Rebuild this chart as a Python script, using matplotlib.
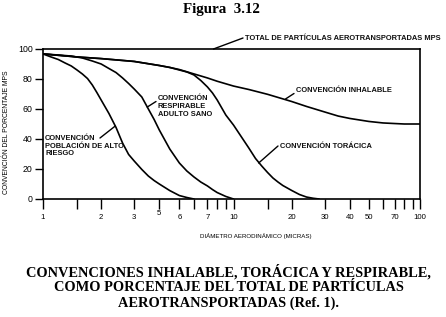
import numpy as np
import matplotlib
matplotlib.use("Agg")
import matplotlib.pyplot as plt
from matplotlib.transforms import ScaledTranslation

# ---------------- data ----------------
major_vals = [1, 2, 3, 5, 6, 7, 10, 20, 30, 40, 50, 70, 100]
major_labels = ["1", "2", "3", "5", "6", "7", "10", "20", "30", "40", "50", "70", "100"]
minor_vals = [1.5, 6.5, 8, 9, 15, 60, 80, 90]

# high-risk population respirable convention
d_risk = [1, 1.1, 1.2, 1.3, 1.4, 1.5, 1.6, 1.7, 1.8, 1.9, 2, 2.2, 2.4, 2.6, 2.8, 3,
          3.5, 4, 4.5, 5, 5.5, 6, 6.25, 6.5]
y_risk = [96.7, 94.7, 93, 90.7, 88.7, 86, 83.3, 80.3, 76, 71, 66, 57, 47.7, 37.3, 29.7, 25.3,
          19.7, 15.3, 12.3, 10, 5.6, 2.3, 1, 0]

# respirable convention, healthy adult
d_resp = [1, 1.2, 1.4, 1.6, 1.8, 2, 2.2, 2.4, 2.6, 2.8, 3, 3.5, 4, 4.5, 5, 5.5, 6,
          6.25, 6.5, 6.75, 7, 7.5, 8, 9, 10]
y_resp = [96.7, 96, 95.3, 94, 92, 90, 87, 84.3, 80.7, 77, 73.3, 68, 60, 53, 46, 33.3, 24,
          18.7, 14.7, 11.3, 8.7, 6.3, 4.3, 1.7, 0]

# thoracic convention
d_tor = [1, 1.5, 2, 3, 5, 5.5, 6, 6.25, 6.5, 6.75, 7, 7.5, 8, 9, 10, 11, 12, 13, 14, 15,
         16, 17, 18, 20, 22, 24, 26, 28]
y_tor = [96.7, 94.7, 93.6, 91.7, 89, 87.7, 86, 84.7, 82.7, 79, 74.7, 70.7, 66, 56, 49.3,
         41.3, 34, 27, 22, 17.7, 14, 11.3, 9, 5.7, 3, 1.3, 0.5, 0]

# inhalable convention
d_inh = [1, 1.5, 2, 3, 5, 5.5, 6, 7, 8, 10, 12, 15, 20, 24, 30, 35, 40, 50, 60, 70, 80, 100]
y_inh = [96.7, 94.7, 93.6, 91.7, 89, 87.7, 86.3, 80.7, 78.5, 75.3, 73, 69.8, 65, 61.7,
         58, 55.3, 53.7, 51.7, 50.7, 50.3, 50, 50]

y_ticks = [0, 20, 40, 60, 80, 100]

# ------------- axis layout (hand-drawn spacing of the original) -------------
tick_pos = np.array([0, 58, 91, 116, 136, 164, 190, 248, 281, 306, 325, 351, 376], float)
log_vals = np.log10(np.array(major_vals, float))

def fwd(x):
    x = np.clip(np.asarray(x, float), 1e-6, None)
    lx = np.log10(x)
    p = np.interp(lx, log_vals, tick_pos)
    p = np.where(lx < log_vals[0], tick_pos[0] + (lx - log_vals[0]) * 190, p)
    p = np.where(lx > log_vals[-1], tick_pos[-1] + (lx - log_vals[-1]) * 190, p)
    return p

def inv(p):
    p = np.asarray(p, float)
    lx = np.interp(p, tick_pos, log_vals)
    lx = np.where(p < tick_pos[0], log_vals[0] + (p - tick_pos[0]) / 190, lx)
    lx = np.where(p > tick_pos[-1], log_vals[-1] + (p - tick_pos[-1]) / 190, lx)
    return 10 ** lx

W, H = 446, 317
fig = plt.figure(figsize=(W / 100, H / 100), dpi=100)
ax = fig.add_axes([43 / W, 1 - 199 / H, 377 / W, 150 / H])
ax.set_xscale("function", functions=(fwd, inv))
ax.set_xlim(1, 100)
ax.set_ylim(0, 100)

lw = 1.2
for d, y in [(d_risk, y_risk), (d_resp, y_resp), (d_tor, y_tor), (d_inh, y_inh)]:
    ax.plot(d, y, color="black", lw=lw, solid_joinstyle="round", solid_capstyle="round")

for s in ax.spines.values():
    s.set_linewidth(1.2)

sans = "Liberation Sans"
ax.set_xticks(major_vals)
ax.set_xticklabels(major_labels, fontsize=5.6, family=sans)
ax.set_xticks(minor_vals, minor=True)
ax.xaxis.set_minor_formatter(plt.NullFormatter())
ax.tick_params(axis="x", which="both", direction="out", length=7.5, width=1.0, pad=3)
ax.set_yticks(y_ticks)
ax.set_yticklabels([str(v) for v in y_ticks], fontsize=6.3, family=sans)
ax.tick_params(axis="y", direction="out", length=6, width=1.0, pad=1.5)

# the "5" label sits a little higher in the original
lab5 = ax.xaxis.get_major_ticks()[major_vals.index(5)].label1
lab5.set_transform(lab5.get_transform() + ScaledTranslation(0, 3.5 / 100, fig.dpi_scale_trans))

ax.set_xlabel("DIÁMETRO AERODINÁMICO (MICRAS)", fontsize=4.45, family=sans)
ax.xaxis.set_label_coords((256 - 43) / 377, -(233 - 199) / 150)
ax.set_ylabel("CONVENCIÓN DEL PORCENTAJE MPS", fontsize=4.9, family=sans)
ax.yaxis.set_label_coords(-(43 - 10) / 377, (199 - 132) / 150)

# annotations: text (pixels from top-left), leader from curve point to text
af = dict(fontsize=5.4, family=sans, fontweight="bold", color="#111111")
arr = dict(arrowstyle="-", color="black", lw=1.0, shrinkA=0, shrinkB=0)
notes = [
    ("TOTAL DE PARTÍCULAS AEROTRANSPORTADAS MPS", (245, 38), (7.6, 100), (243, 38)),
    ("CONVENCIÓN INHALABLE", (296, 91), (18.6, 66.7), (294, 93.5)),
    ("CONVENCIÓN\nRESPIRABLE\nADULTO SANO", (158, 106.5), (3.91, 61.3), (156, 101.5)),
    ("CONVENCIÓN\nPOBLACIÓN DE ALTO\nRIESGO", (45, 146), (2.38, 48.7), (100, 138)),
    ("CONVENCIÓN TORÁCICA", (280, 147), (13.5, 24), (278, 146)),
]
for txt, (tx, ty), xy, (lx, ly) in notes:
    fig.text(tx / W, 1 - ty / H, txt, va="center", ha="left", linespacing=1.15, **af)
    ax.annotate("", xy=xy, xytext=(lx, H - ly), textcoords="figure pixels",
                arrowprops=arr, annotation_clip=False)

serif = "Liberation Serif"
fig.text(221 / W, 1 - 10 / H, "Figura  3.12", ha="center", va="center",
         family=serif, fontweight="bold", fontsize=10.8)
fig.text(228.5 / W, 1 - 287 / H,
         "CONVENCIONES INHALABLE, TORÁCICA Y RESPIRABLE,\nCOMO PORCENTAJE DEL TOTAL DE PARTÍCULAS\nAEROTRANSPORTADAS (Ref. 1).",
         ha="center", va="center", family=serif, fontweight="bold", fontsize=10.4,
         linespacing=1.15)

fig.savefig("out.png", dpi=100)
